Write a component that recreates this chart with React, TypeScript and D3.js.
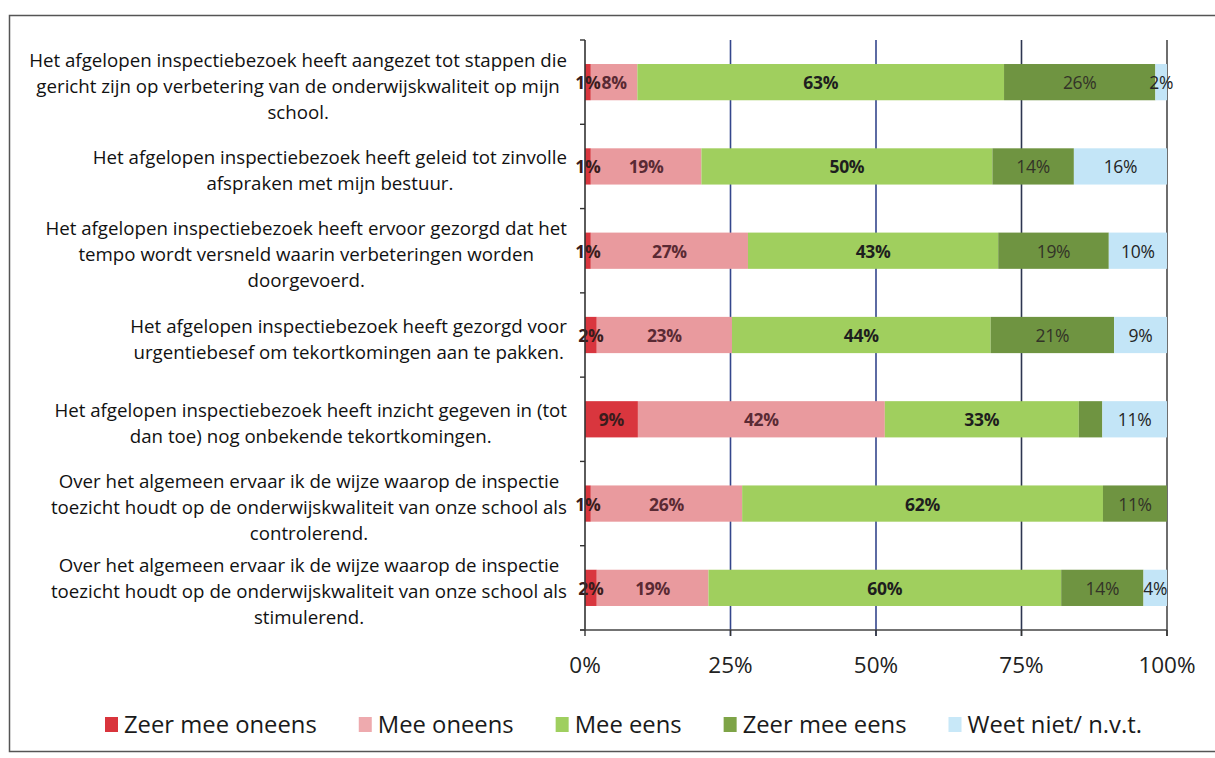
import React, { useEffect, useRef } from 'react';
import * as d3 from 'd3';

const categories: string[][] = [
  ["Het afgelopen inspectiebezoek heeft aangezet tot stappen die", "gericht zijn op verbetering van de onderwijskwaliteit op mijn", "school."],
  ["Het afgelopen inspectiebezoek heeft geleid tot zinvolle", "afspraken met mijn bestuur."],
  ["Het afgelopen inspectiebezoek heeft ervoor gezorgd dat het", "tempo wordt versneld waarin verbeteringen worden", "doorgevoerd."],
  ["Het afgelopen inspectiebezoek heeft gezorgd voor", "urgentiebesef om tekortkomingen aan te pakken."],
  ["Het afgelopen inspectiebezoek heeft inzicht gegeven in (tot", "dan toe) nog onbekende tekortkomingen."],
  ["Over het algemeen ervaar ik de wijze waarop de inspectie", "toezicht houdt op de onderwijskwaliteit van onze school als", "controlerend."],
  ["Over het algemeen ervaar ik de wijze waarop de inspectie", "toezicht houdt op de onderwijskwaliteit van onze school als", "stimulerend."],
];

const seriesNames = ["Zeer mee oneens", "Mee oneens", "Mee eens", "Zeer mee eens", "Weet niet/ n.v.t."];
const zeerMeeOneens = [1, 1, 1, 2, 9, 1, 2];
const meeOneens = [8, 19, 27, 23, 42, 26, 19];
const meeEens = [63, 50, 43, 44, 33, 62, 60];
const zeerMeeEens = [26, 14, 19, 21, 4, 11, 14];
const weetNiet = [2, 16, 10, 9, 11, 0, 4];
// labels that are not printed in the reference: [row, series]
const hiddenLabels = [[4, 3]];
const xTicks = [0, 25, 50, 75, 100];

const colors = ["#d9363e", "#e99a9e", "#a0cf5e", "#6f9441", "#c3e5f7"];
const legendColors = ["#d9343c", "#eeaaae", "#9fcf5f", "#7ea447", "#c8e8f8"];
const labelColors = ["#3a1c1c", "#5a2a34", "#1e1e1e", "#333328", "#252525"];
const labelWeights = ["bold", "bold", "bold", "normal", "normal"];

const FONT = "'Open Sans', Lato, sans-serif";

export default function App() {
  const ref = useRef<SVGSVGElement | null>(null);

  useEffect(() => {
    const svg = d3.select(ref.current);
    svg.selectAll('*').remove();

    const W = 1215, H = 758;
    const x0 = 585, x1 = 1167, top = 40, bottom = 630;

    const rows = categories.map((_, i) => ({
      i,
      s0: zeerMeeOneens[i], s1: meeOneens[i], s2: meeEens[i], s3: zeerMeeEens[i], s4: weetNiet[i],
    }));
    const keys = ['s0', 's1', 's2', 's3', 's4'];
    const stack = d3.stack<any>().keys(keys).offset(d3.stackOffsetExpand);
    const stacked = stack(rows);

    const x = d3.scaleLinear().domain([0, 1]).range([x0, x1]);
    const y = d3.scaleBand<number>().domain(d3.range(categories.length)).range([top, bottom]).paddingInner(0.57).paddingOuter(0.285);

    // frame
    svg.append('rect').attr('x', 9.5).attr('y', 15.5).attr('width', 1240).attr('height', 736)
      .attr('fill', 'none').attr('stroke', '#555').attr('stroke-width', 1.5);

    // gridlines
    const g = svg.append('g');
    xTicks.slice(1).forEach((t) => {
      g.append('line').attr('x1', x(t / 100)).attr('x2', x(t / 100)).attr('y1', top).attr('y2', bottom + 6)
        .attr('stroke', t === 100 ? '#4a4a4a' : (t === 75 ? '#2d3650' : '#34468c')).attr('stroke-width', 1.6);
    });

    // bars
    stacked.forEach((layer, si) => {
      layer.forEach((d, ri) => {
        const w = x(d[1]) - x(d[0]);
        if (w <= 0) return;
        svg.append('rect').attr('x', x(d[0])).attr('y', y(ri)!).attr('width', w).attr('height', y.bandwidth())
          .attr('fill', colors[si]);
      });
    });

    // data labels
    stacked.forEach((layer, si) => {
      const vals = [zeerMeeOneens, meeOneens, meeEens, zeerMeeEens, weetNiet][si];
      layer.forEach((d, ri) => {
        if (vals[ri] <= 0) return;
        if (hiddenLabels.some(([r, s]) => r === ri && s === si)) return;
        svg.append('text').attr('x', (x(d[0]) + x(d[1])) / 2).attr('y', y(ri)! + y.bandwidth() / 2)
          .attr('text-anchor', 'middle').attr('dominant-baseline', 'central')
          .attr('font-family', FONT).attr('font-size', 17.5).attr('font-weight', labelWeights[si])
          .attr('letter-spacing', -0.3)
          .attr('fill', labelColors[si]).text(vals[ri] + '%');
      });
    });

    // left axis
    svg.append('line').attr('x1', x0).attr('x2', x0).attr('y1', top).attr('y2', bottom).attr('stroke', '#333').attr('stroke-width', 1.6);
    d3.range(categories.length + 1).forEach((k) => {
      const yy = top + k * y.step();
      svg.append('line').attr('x1', x0 - 5).attr('x2', x0).attr('y1', yy).attr('y2', yy).attr('stroke', '#333').attr('stroke-width', 1.4);
    });
    // bottom axis
    svg.append('line').attr('x1', x0 - 5).attr('x2', x1).attr('y1', bottom).attr('y2', bottom).attr('stroke', '#444').attr('stroke-width', 1.6);
    xTicks.forEach((t) => {
      svg.append('line').attr('x1', x(t / 100)).attr('x2', x(t / 100)).attr('y1', bottom).attr('y2', bottom + 6).attr('stroke', '#333').attr('stroke-width', 1.4);
      svg.append('text').attr('x', x(t / 100)).attr('y', 673).attr('text-anchor', 'middle')
        .attr('font-family', FONT).attr('font-size', 22.5).attr('fill', '#222').text(t + '%');
    });

    // category labels
    const lh = 26;
    categories.forEach((lines, ri) => {
      const cy = y(ri)! + y.bandwidth() / 2 + 3;
      const grp = svg.append('g');
      const texts = lines.map((ln, li) => grp.append('text')
        .attr('y', cy + (li - (lines.length - 1) / 2) * lh)
        .attr('dominant-baseline', 'central').attr('text-anchor', 'middle')
        .attr('font-family', FONT).attr('font-size', 18.7).attr('fill', '#111').text(ln));
      const maxW = d3.max(texts, (t) => (t.node() as SVGTextElement).getComputedTextLength()) || 0;
      const cx = 567 - maxW / 2;
      texts.forEach((t) => t.attr('x', cx));
    });

    // legend
    let lx = 105;
    const ly = 724;
    seriesNames.forEach((name, si) => {
      svg.append('rect').attr('x', lx).attr('y', ly - 7).attr('width', 13).attr('height', 15).attr('fill', legendColors[si]);
      const t = svg.append('text').attr('x', lx + 19).attr('y', ly).attr('dominant-baseline', 'central')
        .attr('font-family', FONT).attr('font-size', 23.8).attr('fill', '#1a1a1a').text(name);
      const tw = (t.node() as SVGTextElement).getComputedTextLength();
      lx = lx + 19 + tw + 42;
    });
    svg.attr('width', W).attr('height', H);
  }, []);

  return (
    <svg ref={ref} width={1215} height={758} style={{ position: 'absolute', left: 0, top: 0, background: '#fff' }} />
  );
}
